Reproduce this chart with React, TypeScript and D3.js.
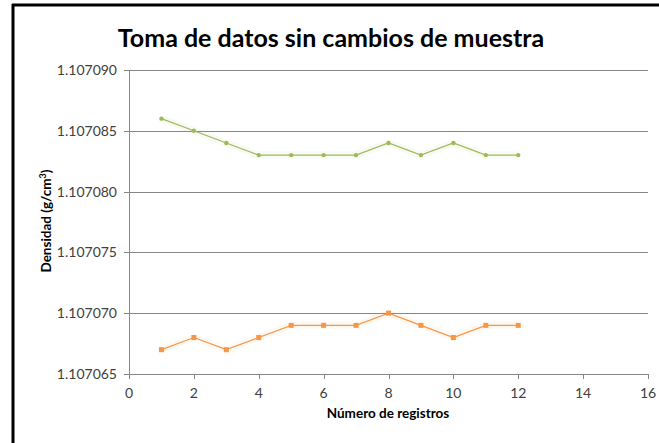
import React, { useEffect, useRef } from 'react';
import * as d3 from 'd3';

const registros = [1, 2, 3, 4, 5, 6, 7, 8, 9, 10, 11, 12];
const serieVerde = [1.107086, 1.107085, 1.107084, 1.107083, 1.107083, 1.107083, 1.107083, 1.107084, 1.107083, 1.107084, 1.107083, 1.107083];
const serieNaranja = [1.107067, 1.107068, 1.107067, 1.107068, 1.107069, 1.107069, 1.107069, 1.10707, 1.107069, 1.107068, 1.107069, 1.107069];
const yTicks = [1.107065, 1.10707, 1.107075, 1.10708, 1.107085, 1.10709];
const xTicks = [0, 2, 4, 6, 8, 10, 12, 14, 16];

const App = () => {
  const svgRef = useRef<SVGSVGElement>(null);

  useEffect(() => {
    if (!svgRef.current) return;
    const width = 659;
    const height = 443;
    const left = 129;
    const right = 648;
    const top = 70;
    const bottom = 374;
    const font = 'Lato, "Open Sans", sans-serif';
    const axisColor = '#868686';

    const svg = d3.select(svgRef.current);
    svg.selectAll('*').remove();
    svg.attr('width', width).attr('height', height);

    svg.append('rect').attr('width', width).attr('height', height).attr('fill', '#fff');

    // outer frame (top and left only visible)
    svg.append('line').attr('x1', 12).attr('x2', width).attr('y1', 5).attr('y2', 5)
      .attr('stroke', '#000').attr('stroke-width', 3);
    svg.append('line').attr('x1', 13).attr('x2', 13).attr('y1', 4).attr('y2', height)
      .attr('stroke', '#000').attr('stroke-width', 3);

    const x = d3.scaleLinear().domain([0, 16]).range([left, right]);
    const y = d3.scaleLinear().domain([1.107065, 1.10709]).range([bottom, top]);

    // grid lines
    svg.append('g').selectAll('line').data(yTicks).join('line')
      .attr('x1', left - 5).attr('x2', right)
      .attr('y1', d => Math.round(y(d)) + 0.5).attr('y2', d => Math.round(y(d)) + 0.5)
      .attr('stroke', axisColor).attr('stroke-width', 1);

    // y axis line
    svg.append('line').attr('x1', left + 0.5).attr('x2', left + 0.5).attr('y1', top).attr('y2', bottom + 5)
      .attr('stroke', axisColor);

    // x ticks
    svg.append('g').selectAll('line').data(xTicks).join('line')
      .attr('x1', d => Math.round(x(d)) + 0.5).attr('x2', d => Math.round(x(d)) + 0.5)
      .attr('y1', bottom).attr('y2', bottom + 5)
      .attr('stroke', axisColor);

    // tick labels
    svg.append('g').selectAll('text').data(yTicks).join('text')
      .attr('x', left - 12).attr('y', d => y(d) + 5)
      .attr('text-anchor', 'end').attr('font-family', font).attr('font-size', 14).attr('fill', '#404040')
      .text(d => d3.format('.6f')(d));
    svg.append('g').selectAll('text').data(xTicks).join('text')
      .attr('x', d => x(d)).attr('y', bottom + 24)
      .attr('text-anchor', 'middle').attr('font-family', font).attr('font-size', 14).attr('fill', '#404040')
      .text(d => d);

    const line = d3.line<number>().x((_, i) => x(registros[i])).y(d => y(d));

    const drawSeries = (vals: number[], color: string, square: boolean) => {
      const g = svg.append('g');
      g.append('path').attr('d', line(vals)).attr('fill', 'none')
        .attr('stroke', color).attr('stroke-opacity', 0.07).attr('stroke-width', 7);
      g.append('path').attr('d', line(vals)).attr('fill', 'none')
        .attr('stroke', color).attr('stroke-width', 1.2);
      if (square) {
        g.selectAll('rect').data(vals).join('rect')
          .attr('x', (_, i) => x(registros[i]) - 2.5).attr('y', d => y(d) - 2.5)
          .attr('width', 5).attr('height', 5).attr('fill', color);
      } else {
        g.selectAll('circle').data(vals).join('circle')
          .attr('cx', (_, i) => x(registros[i])).attr('cy', d => y(d))
          .attr('r', 2.2).attr('fill', color);
      }
    };
    drawSeries(serieVerde, '#9bbb59', false);
    drawSeries(serieNaranja, '#f79646', true);

    // title and axis labels
    svg.append('text').attr('x', 331).attr('y', 47).attr('text-anchor', 'middle')
      .attr('font-family', font).attr('font-weight', 'bold').attr('font-size', 25).attr('fill', '#000')
      .text('Toma de datos sin cambios de muestra');
    svg.append('text').attr('x', 388).attr('y', 418).attr('text-anchor', 'middle')
      .attr('font-family', font).attr('font-weight', 'bold').attr('font-size', 13.5).attr('fill', '#000')
      .text('Número de registros');
    const yl = svg.append('text')
      .attr('transform', 'translate(51,221) rotate(-90)').attr('text-anchor', 'middle')
      .attr('font-family', font).attr('font-weight', 'bold').attr('font-size', 13.5).attr('fill', '#000');
    yl.append('tspan').text('Densidad (g/cm');
    yl.append('tspan').attr('font-size', 9).attr('dy', -5).text('3');
    yl.append('tspan').attr('dy', 5).text(')');
  }, []);

  return (
    <div style={{ position: 'absolute', left: 0, top: 0 }}>
      <svg ref={svgRef} style={{ display: 'block' }}></svg>
    </div>
  );
};

export default App;
